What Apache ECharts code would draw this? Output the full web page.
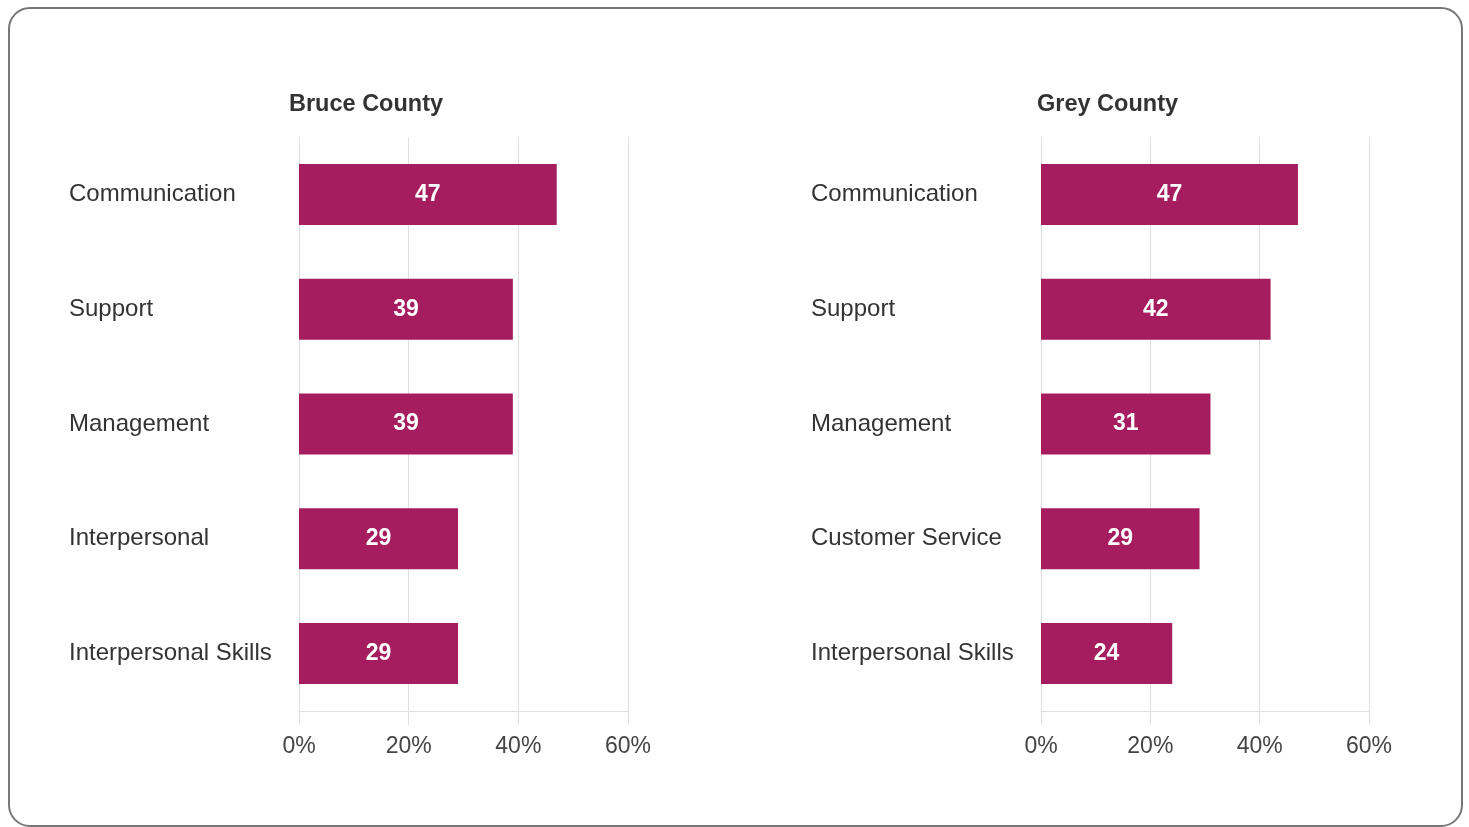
<!DOCTYPE html>
<html>
<head>
<meta charset="utf-8">
<script src="https://cdn.jsdelivr.net/npm/echarts@6/dist/echarts.min.js"></script>
<style>
  html, body { margin: 0; padding: 0; background: #fff; }
  #frame { position: absolute; left: 8px; top: 7px; width: 1455px; height: 820px; border: 2px solid #777; border-radius: 22px; box-sizing: border-box; }
  #chart { position: absolute; left: 0; top: 0; width: 1469px; height: 827px; }
</style>
</head>
<body>
<div id="chart"></div>
<div id="frame"></div>
<script>
const titles = ['Bruce County', 'Grey County'];
const bruceCategories = ['Communication', 'Support', 'Management', 'Interpersonal', 'Interpersonal Skills'];
const bruceValues = [47, 39, 39, 29, 29];
const greyCategories = ['Communication', 'Support', 'Management', 'Customer Service', 'Interpersonal Skills'];
const greyValues = [47, 42, 31, 29, 24];
const tickValues = [0, 20, 40, 60];

const FONT = '"Liberation Sans", Arial, sans-serif';
const BAR = '#A51D5E';
const chart = echarts.init(document.getElementById('chart'));

const grids = [
  { left: 299, width: 329, top: 137, height: 574 },
  { left: 1041, width: 328, top: 137, height: 574 }
];
const cats = [bruceCategories, greyCategories];
const vals = [bruceValues, greyValues];

chart.setOption({
  animation: false,
  textStyle: { fontFamily: FONT },
  title: [
    { text: titles[0], left: 284, top: 88, textStyle: { fontFamily: FONT, fontSize: 23.5, fontWeight: 'bold', color: '#333' } },
    { text: titles[1], left: 1032, top: 88, textStyle: { fontFamily: FONT, fontSize: 23.5, fontWeight: 'bold', color: '#333' } }
  ],
  grid: grids,
  xAxis: [0, 1].map(i => ({
    type: 'value', gridIndex: i, min: tickValues[0], max: tickValues[tickValues.length - 1], interval: 20,
    axisLine: { show: true, lineStyle: { color: '#e0e0e0', width: 1 } },
    axisTick: { show: true, length: 14, lineStyle: { color: '#e0e0e0' } },
    splitLine: { show: true, lineStyle: { color: '#e0e0e0', width: 1 } },
    axisLabel: { formatter: '{value}%', fontSize: 23, color: '#444', margin: 24, fontFamily: FONT }
  })),
  yAxis: [0, 1].map(i => ({
    type: 'category', gridIndex: i, data: cats[i], inverse: true,
    axisLine: { show: false }, axisTick: { show: false }, splitLine: { show: false },
    axisLabel: { align: 'left', margin: 230, fontSize: 24, color: '#333', fontFamily: FONT }
  })),
  series: [0, 1].map(i => ({
    type: 'bar', xAxisIndex: i, yAxisIndex: i, data: vals[i], barWidth: 61,
    itemStyle: { color: BAR },
    label: { show: true, position: 'inside', color: '#fff', fontSize: 23, fontWeight: 'bold', fontFamily: FONT }
  }))
});
</script>
</body>
</html>
